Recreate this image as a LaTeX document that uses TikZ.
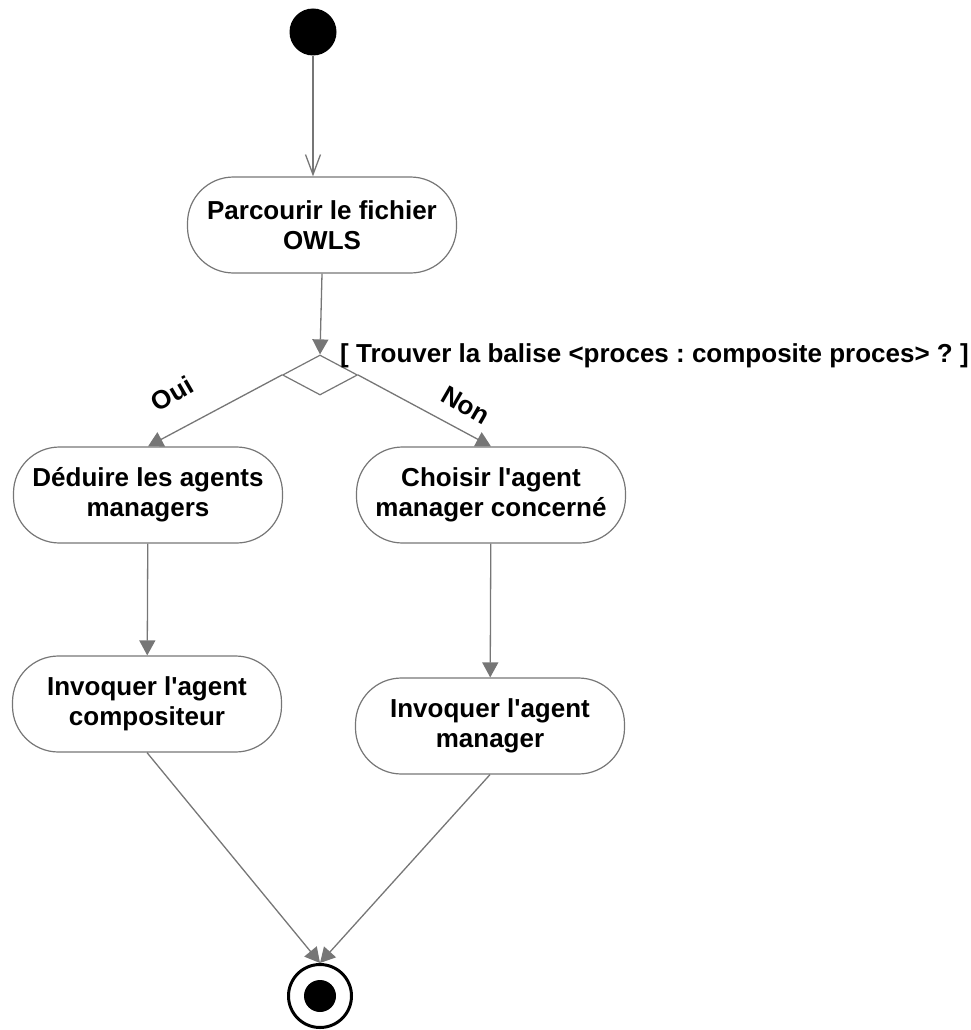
\documentclass[tikz,border=0pt]{standalone}
\usepackage{fontspec}
\setmainfont{Liberation Sans}
\usetikzlibrary{arrows.meta,shapes.geometric}
\definecolor{gristrait}{RGB}{118,118,118}
\frenchspacing

\tikzset{
  activite/.style={draw=gristrait, line width=1.2pt, rounded corners=46pt,
    minimum width=269pt, minimum height=96pt, align=center,
    font=\bfseries\fontsize{26}{30}\selectfont},
  fleche/.style={draw=gristrait, line width=1.3pt, -{Triangle[length=15pt,width=16pt]}},
  etiquette/.style={font=\bfseries\fontsize{26}{30}\selectfont}
}

\begin{document}
\begin{tikzpicture}[x=1pt, y=-1pt]
    \useasboundingbox (0,0) rectangle (971,1030);

    % --- 1. Debut et lecture du fichier ---
    \node[circle, fill=black, minimum size=47pt, inner sep=0pt] (debut) at (313,32) {};
    \node[activite] (parcourir) at (322,225) {Parcourir le fichier\\OWLS};
    \draw[draw=gristrait, line width=1.3pt, -{Straight Barb[length=20pt,width=15pt]}]
        (debut) -- (debut |- parcourir.north);

    % --- 2. Decision ---
    \node[diamond, draw=gristrait, line width=1.2pt, minimum width=75pt, minimum height=40pt,
          inner sep=0pt] (decision) at (320,375) {};
    \node[etiquette, anchor=west, inner sep=0pt] (garde) at (340,356)
        {[ Trouver la balise <proces : composite proces> ? ]};
    \draw[fleche] (parcourir.south) -- (decision.north);

    % --- 3. Branche Oui ---
    \node[activite] (deduire) at (148,495) {Déduire les agents\\managers};
    \node[activite] (compositeur) at (147,704) {Invoquer l\textquotesingle agent\\compositeur};
    \draw[fleche] (decision.west) -- (deduire.north);
    \node[etiquette, rotate=30, inner sep=0pt] (oui) at (172,394) {Oui};
    \draw[fleche] (deduire) -- (compositeur);

    % --- 4. Branche Non ---
    \node[activite] (choisir) at (491,495) {Choisir l\textquotesingle agent\\manager concerné};
    \node[activite] (manager) at (490,726) {Invoquer l\textquotesingle agent\\manager};
    \draw[fleche] (decision.east) -- (choisir.north);
    \node[etiquette, rotate=-30, inner sep=0pt] (non) at (466,405) {Non};
    \draw[fleche] (choisir) -- (manager);

    % --- 5. Fin ---
    \node[circle, draw=black, line width=3pt, minimum size=63pt, inner sep=0pt] (fin) at (320,996) {};
    \fill[black] (fin.center) circle[radius=16pt];
    \draw[fleche] (compositeur.south) -- (fin.north);
    \draw[fleche] (manager.south) -- (fin.north);
\end{tikzpicture}
\end{document}
